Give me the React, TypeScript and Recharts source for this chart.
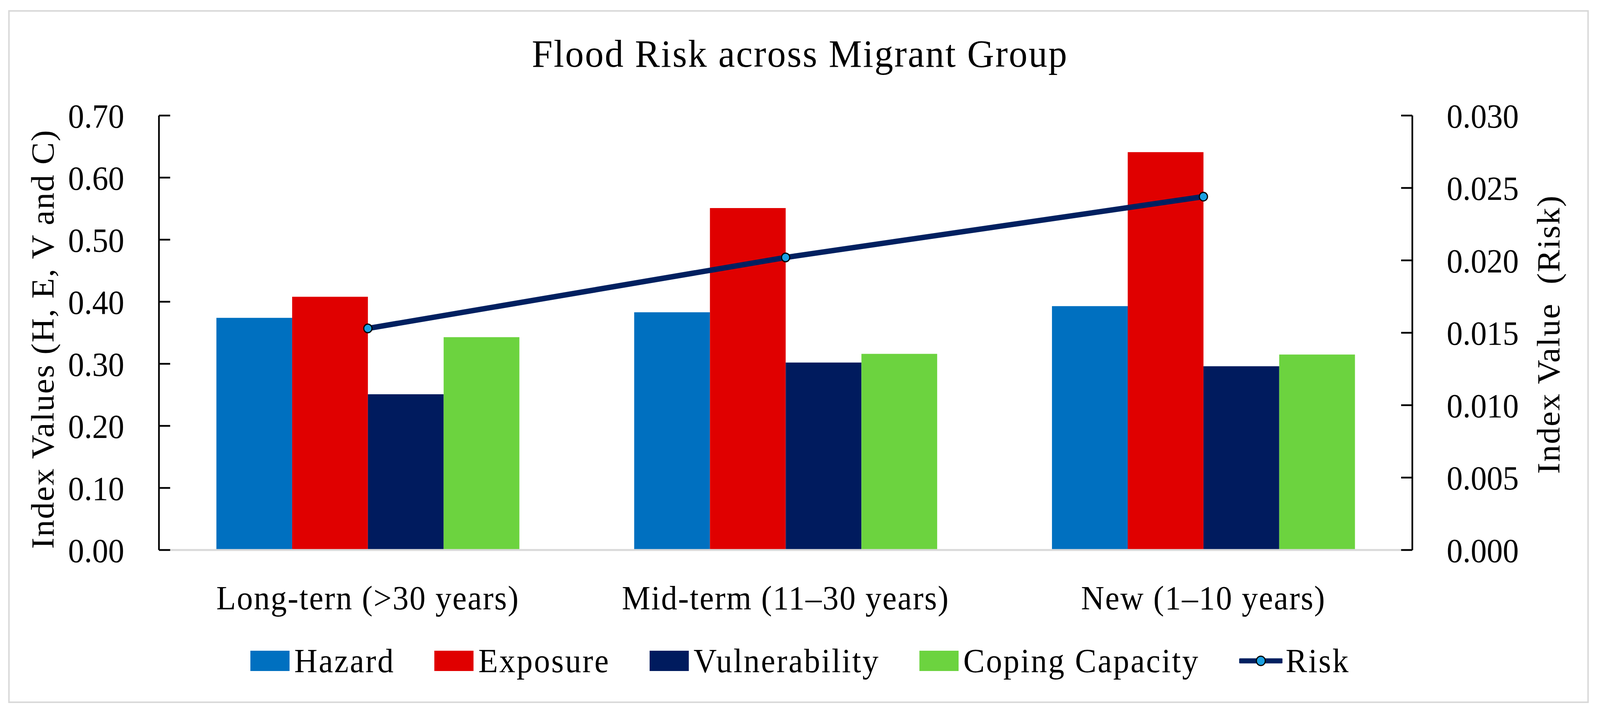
import React from "react";
import { ComposedChart, Bar, Line, XAxis, YAxis, Legend } from "recharts";

const groups = ["Long-tern (>30 years)", "Mid-term (11–30 years)", "New (1–10 years)"];
const hazard = [0.374, 0.383, 0.393];
const exposure = [0.408, 0.551, 0.641];
const vulnerability = [0.251, 0.302, 0.296];
const copingCapacity = [0.343, 0.316, 0.315];
const risk = [0.0153, 0.0202, 0.0244];

const leftTicks = [0, 0.1, 0.2, 0.3, 0.4, 0.5, 0.6, 0.7];
const rightTicks = [0, 0.005, 0.01, 0.015, 0.02, 0.025, 0.03];
const groupBoundaries = [1, 2];

const data = groups.map((group, i) => ({
  group,
  hazard: hazard[i],
  exposure: exposure[i],
  vulnerability: vulnerability[i],
  coping: copingCapacity[i],
  risk: risk[i],
}));

const bars = [
  { key: "hazard", name: "Hazard", color: "#0070C0" },
  { key: "exposure", name: "Exposure", color: "#E00000" },
  { key: "vulnerability", name: "Vulnerability", color: "#001B5E" },
  { key: "coping", name: "Coping Capacity", color: "#6CD33F" },
];
const riskLine = { key: "risk", name: "Risk", color: "#002060", dot: "#1BA1E2" };

const FONT = '"Liberation Serif", "Times New Roman", serif';
const W = 4288;
const H = 1824;
// the screenshot only shows ~4096px of width, so the drawing is squeezed to fit
const VIEW_W = 4096;

const SideLabel = ({ viewBox, value, cx, dy }: any) => {
  const cy = viewBox.y + viewBox.height / 2 + dy;
  return (
    <text
      x={cx}
      y={cy}
      transform={`rotate(-90 ${cx} ${cy})`}
      textAnchor="middle"
      dominantBaseline="central"
      fontFamily={FONT}
      fontSize={86}
      letterSpacing={2.4}
      fill="#000"
      style={{ whiteSpace: "pre" }}
    >
      {value}
    </text>
  );
};

const LegendRow = () => (
  <div
    style={{
      display: "flex",
      justifyContent: "center",
      alignItems: "center",
      height: 140,
      gap: 106,
      fontFamily: FONT,
      fontSize: 86,
      lineHeight: 1,
      letterSpacing: 3.5,
      color: "#000",
    }}
  >
    {bars.map((b) => (
      <span key={b.key} style={{ display: "flex", alignItems: "center", gap: 13 }}>
        <span style={{ width: 105, height: 52, background: b.color, display: "inline-block" }} />
        {b.name}
      </span>
    ))}
    <span style={{ display: "flex", alignItems: "center", gap: 9 }}>
      <svg width={116} height={32}>
        <line x1={3} y1={16} x2={113} y2={16} stroke={riskLine.color} strokeWidth={13} strokeLinecap="round" />
        <circle cx={58} cy={16} r={12} fill={riskLine.dot} stroke="#000" strokeWidth={3} />
      </svg>
      {riskLine.name}
    </span>
  </div>
);

export default function App() {
  return (
    <div style={{ position: "relative", width: VIEW_W, height: H, background: "#fff", overflow: "hidden" }}>
      <style>{"html,body{margin:0;padding:0;overflow:hidden}"}</style>
      <div
        style={{
          position: "absolute",
          left: 0,
          top: 0,
          width: W,
          height: H,
          transform: `scaleX(${VIEW_W / W})`,
          transformOrigin: "0 0",
        }}
      >
        <div
          style={{
            position: "absolute",
            left: 22,
            top: 26,
            width: 4236,
            height: 1775,
            boxSizing: "border-box",
            border: "4px solid #D9D9D9",
          }}
        />
        <div
          style={{
            position: "absolute",
            left: 0,
            top: 88,
            width: W,
            textAlign: "center",
            fontFamily: FONT,
            fontSize: 100,
            lineHeight: 1,
            letterSpacing: 3,
            color: "#000",
          }}
        >
          Flood Risk across Migrant Group
        </div>
        <div style={{ position: "absolute", left: 0, top: 0 }}>
          <ComposedChart
            width={W}
            height={H}
            data={data}
            margin={{ top: 296, right: 0, bottom: 61, left: 0 }}
            barCategoryGap="13.75%"
            barGap={0}
          >
            <XAxis
              dataKey="group"
              height={214}
              interval={0}
              axisLine={{ stroke: "#D9D9D9", strokeWidth: 5 }}
              tickLine={false}
              tickSize={0}
              tickMargin={91}
              tick={{ fontFamily: FONT, fontSize: 86, fill: "#000", letterSpacing: 2.5 }}
            />
            <XAxis
              xAxisId="sep"
              type="number"
              domain={[0, 3]}
              ticks={groupBoundaries}
              mirror
              height={0}
              tick={false}
              axisLine={false}
              tickLine={{ stroke: "#D9D9D9", strokeWidth: 3 }}
              tickSize={29}
            />
            <YAxis
              yAxisId="left"
              width={426}
              domain={[0, 0.7]}
              ticks={leftTicks}
              interval={0}
              tickFormatter={(v: number) => v.toFixed(2)}
              axisLine={{ stroke: "#000", strokeWidth: 4.5 }}
              tickLine={{ stroke: "#000", strokeWidth: 4.5 }}
              tickSize={-30}
              tickMargin={123}
              tick={{ fontFamily: FONT, fontSize: 86, fill: "#000" }}
              label={{
                value: "Index Values (H, E, V and C)",
                content: (p: any) => <SideLabel {...p} value="Index Values (H, E, V and C)" cx={114} dy={16} />,
              }}
            />
            <YAxis
              yAxisId="right"
              orientation="right"
              width={503}
              domain={[0, 0.03]}
              ticks={rightTicks}
              interval={0}
              tickFormatter={(v: number) => v.toFixed(3)}
              axisLine={{ stroke: "#000", strokeWidth: 4.5 }}
              tickLine={{ stroke: "#000", strokeWidth: 4.5 }}
              tickSize={-30}
              tickMargin={122}
              tick={{ fontFamily: FONT, fontSize: 86, fill: "#000" }}
              label={{
                value: "Index Value  (Risk)",
                content: (p: any) => <SideLabel {...p} value="Index Value  (Risk)" cx={W - 138} dy={4} />,
              }}
            />
            <Legend verticalAlign="bottom" align="center" height={140} content={() => <LegendRow />} />
            {bars.map((b) => (
              <Bar key={b.key} yAxisId="left" dataKey={b.key} name={b.name} fill={b.color} isAnimationActive={false} />
            ))}
            <Line
              yAxisId="right"
              type="linear"
              dataKey={riskLine.key}
              name={riskLine.name}
              stroke={riskLine.color}
              strokeWidth={14}
              dot={{ r: 11, fill: riskLine.dot, stroke: "#000", strokeWidth: 3 }}
              activeDot={false}
              isAnimationActive={false}
            />
          </ComposedChart>
        </div>
      </div>
    </div>
  );
}
